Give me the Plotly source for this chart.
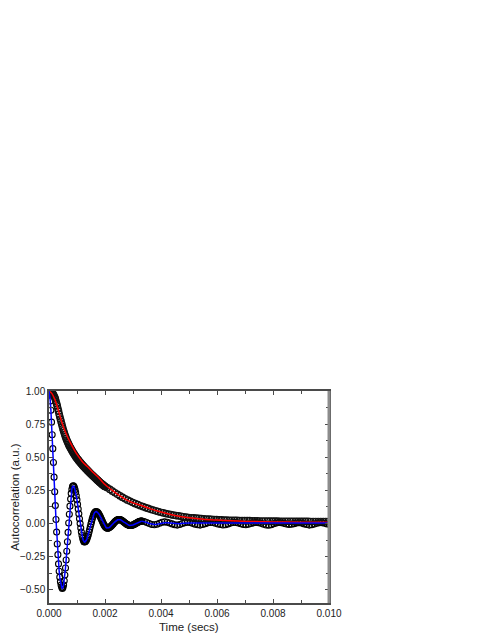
import plotly.graph_objects as go

DT = 1 / 44100  # sampling interval (s)

# oscillating autocorrelation, every sample, n = 0..146
osc_fine = [
    1.000, 0.975, 0.925, 0.855, 0.765, 0.670, 0.565, 0.460, 0.350, 0.240,
    0.135, 0.030, -0.065, -0.155, -0.235, -0.305, -0.360, -0.405, -0.440, -0.465,
    -0.482, -0.490, -0.483, -0.464, -0.432, -0.389, -0.336, -0.275, -0.209, -0.138,
    -0.067, 0.004, 0.070, 0.131, 0.184, 0.227, 0.259, 0.278, 0.285, 0.282,
    0.272, 0.257, 0.235, 0.209, 0.179, 0.145, 0.109, 0.073, 0.036, 0.000,
    -0.034, -0.064, -0.090, -0.112, -0.127, -0.137, -0.140, -0.138, -0.133, -0.125,
    -0.113, -0.099, -0.083, -0.064, -0.045, -0.025, -0.005, 0.014, 0.033, 0.049,
    0.063, 0.075, 0.083, 0.088, 0.090, 0.089, 0.086, 0.082, 0.075, 0.068,
    0.059, 0.049, 0.038, 0.028, 0.017, 0.006, -0.004, -0.013, -0.020, -0.027,
    -0.031, -0.034, -0.035, -0.035, -0.033, -0.031, -0.027, -0.023, -0.019, -0.014,
    -0.008, -0.003, 0.003, 0.009, 0.014, 0.018, 0.022, 0.026, 0.028, 0.029,
    0.030, 0.030, 0.029, 0.027, 0.025, 0.022, 0.019, 0.015, 0.011, 0.008,
    0.004, 0.000, -0.004, -0.007, -0.010, -0.012, -0.014, -0.015, -0.015, -0.015,
    -0.014, -0.013, -0.011, -0.009, -0.007, -0.004, -0.001, 0.002, 0.004, 0.007,
    0.010, 0.012, 0.014, 0.016, 0.017, 0.018, 0.018,
]
OSC_TAIL_START = 146  # sample index, then every 4th sample
osc_tail = [
    0.018, 0.015, 0.008, 0.000, -0.007, -0.010, -0.006, 0.002, 0.009, 0.012,
    0.010, 0.004, -0.003, -0.009, -0.012, -0.008, 0.000, 0.006, 0.009, 0.007,
    0.001, -0.005, -0.010, -0.012, -0.008, -0.001, 0.005, 0.008, 0.007, 0.002,
    -0.004, -0.008, -0.011, -0.009, -0.003, 0.003, 0.007, 0.008, 0.004, -0.002,
    -0.007, -0.009, -0.006, 0.000, 0.005, 0.008, 0.006, 0.001, -0.006, -0.011,
    -0.013, -0.009, -0.002, 0.004, 0.007, 0.006, 0.001, -0.004, -0.007, -0.006,
    -0.001, 0.004, 0.006, 0.003, -0.003, -0.008, -0.012, -0.010, -0.004, 0.002,
    0.006, 0.006, 0.002, -0.003, -0.006,
]
osc_fit_tail = [
    0.018, 0.014, 0.007, 0.000, -0.005, -0.007, -0.005, 0.000, 0.004, 0.006,
    0.005, 0.003, 0.000, -0.002, -0.002, -0.001, 0.001, 0.003, 0.003, 0.003,
    0.003, 0.003, 0.003, 0.003, 0.003, 0.003, 0.003, 0.003, 0.003, 0.003,
    0.003, 0.003, 0.003, 0.003, 0.003, 0.003, 0.003, 0.003, 0.003, 0.003,
    0.003, 0.003, 0.003, 0.003, 0.003, 0.003, 0.003, 0.003, 0.003, 0.003,
    0.003, 0.003, 0.003, 0.003, 0.003, 0.003, 0.003, 0.003, 0.003, 0.003,
    0.003, 0.003, 0.003, 0.003, 0.003, 0.003, 0.003, 0.003, 0.003, 0.003,
    0.003, 0.003, 0.003, 0.003, 0.003,
]

# decaying autocorrelation, every sample n = 0..89
decay_fine = [
    1.000, 0.999, 0.997, 0.995, 0.991, 0.987, 0.980, 0.972, 0.962, 0.953,
    0.940, 0.922, 0.904, 0.887, 0.868, 0.848, 0.826, 0.807, 0.788, 0.770,
    0.752, 0.734, 0.716, 0.700, 0.684, 0.669, 0.655, 0.642, 0.630, 0.619,
    0.608, 0.597, 0.587, 0.578, 0.569, 0.561, 0.552, 0.544, 0.536, 0.528,
    0.521, 0.513, 0.506, 0.499, 0.492, 0.486, 0.480, 0.474, 0.468, 0.462,
    0.457, 0.451, 0.445, 0.440, 0.434, 0.429, 0.424, 0.419, 0.414, 0.409,
    0.404, 0.399, 0.394, 0.389, 0.384, 0.379, 0.375, 0.370, 0.366, 0.361,
    0.356, 0.352, 0.347, 0.343, 0.338, 0.334, 0.329, 0.325, 0.320, 0.316,
    0.311, 0.307, 0.303, 0.299, 0.295, 0.291, 0.287, 0.283, 0.280, 0.277,
]
DECAY_TAIL_START = 92  # sample index, then every 4th sample
decay_tail = [
    0.270, 0.257, 0.244, 0.232, 0.220, 0.208, 0.197, 0.186, 0.176, 0.167,
    0.158, 0.150, 0.142, 0.134, 0.127, 0.120, 0.114, 0.107, 0.101, 0.096,
    0.090, 0.085, 0.080, 0.075, 0.071, 0.067, 0.063, 0.060, 0.057, 0.054,
    0.051, 0.048, 0.045, 0.043, 0.042, 0.040, 0.038, 0.037, 0.035, 0.034,
    0.033, 0.032, 0.030, 0.029, 0.028, 0.027, 0.026, 0.025, 0.024, 0.024,
    0.023, 0.023, 0.022, 0.022, 0.021, 0.021, 0.021, 0.020, 0.020, 0.020,
    0.019, 0.019, 0.019, 0.019, 0.018, 0.018, 0.018, 0.018, 0.017, 0.017,
    0.017, 0.017, 0.017, 0.016, 0.016, 0.016, 0.016, 0.016, 0.016, 0.016,
    0.015, 0.015, 0.015, 0.015, 0.015, 0.015, 0.015, 0.015,
]

# red fit of the decaying curve (time in ms)
fit_t_ms = [0, 0.1, 0.2, 0.3, 0.4, 0.5, 0.6, 0.7, 0.8, 0.9, 1.0, 1.2, 1.4, 1.6,
            1.8, 2.0, 2.2, 2.4, 2.6, 2.8, 3.0, 3.3, 3.6, 3.9, 4.2, 4.5, 5.0,
            5.5, 6.0, 6.5, 7.0, 8.0, 9.0, 10.0]
fit_decay = [1.000, 0.982, 0.940, 0.880, 0.805, 0.738, 0.683, 0.636, 0.595,
             0.556, 0.522, 0.465, 0.424, 0.381, 0.340, 0.294, 0.259, 0.228,
             0.200, 0.174, 0.156, 0.136, 0.112, 0.092, 0.075, 0.060, 0.043,
             0.033, 0.026, 0.020, 0.016, 0.012, 0.010, 0.009]

FONT = "Liberation Sans, Arial, sans-serif"
osc_circ = dict(symbol="circle-open", size=6, color="black", line=dict(width=1.1))
decay_circ = dict(symbol="circle-open", size=6.5, color="#111", line=dict(width=1.2))

fig = go.Figure()
fig.add_trace(go.Scatter(y=osc_fine, x0=0, dx=DT, mode="markers", marker=osc_circ))
fig.add_trace(go.Scatter(y=osc_tail, x0=OSC_TAIL_START * DT, dx=4 * DT,
                         mode="markers", marker=osc_circ))
fig.add_trace(go.Scatter(y=decay_fine, x0=0, dx=DT, mode="markers", marker=decay_circ))
fig.add_trace(go.Scatter(y=decay_tail, x0=DECAY_TAIL_START * DT, dx=4 * DT,
                         mode="markers", marker=decay_circ))
fig.add_trace(go.Scatter(x=[t * 1e-3 for t in fit_t_ms], y=fit_decay, mode="lines",
                         line=dict(color="#ff0000", width=1.5, shape="spline")))
fig.add_trace(go.Scatter(y=osc_fine, x0=0, dx=DT, mode="lines",
                         line=dict(color="#0000ff", width=1.5)))
fig.add_trace(go.Scatter(y=osc_fit_tail, x0=OSC_TAIL_START * DT, dx=4 * DT,
                         mode="lines", line=dict(color="#0000ff", width=1.5)))

axis_common = dict(
    showgrid=False, zeroline=False, showline=True, linecolor="#4a4a4a",
    linewidth=1.5, mirror="allticks", ticks="inside", ticklen=4,
    tickcolor="#4a4a4a", tickfont=dict(family=FONT, size=10, color="#222"),
)
fig.update_xaxes(range=[0, 0.010], tickvals=[0, 0.002, 0.004, 0.006, 0.008, 0.010],
                 tickformat=".3f", minor=dict(ticks="inside", dtick=0.001, ticklen=3,
                                              tickcolor="#4a4a4a"),
                 **axis_common)
fig.update_yaxes(range=[-0.6, 1.0], tickvals=[-0.5, -0.25, 0, 0.25, 0.5, 0.75, 1.0],
                 tickformat=".2f", minor=dict(ticks="inside", dtick=0.125, ticklen=3,
                                              tickcolor="#4a4a4a"),
                 **axis_common)

fig.add_shape(type="line", xref="paper", yref="paper", x0=1, x1=1, y0=0, y1=1,
              line=dict(color="#8c8c8c", width=3))

fig.add_annotation(text="Time (secs)", xref="paper", yref="paper", x=0.5, y=-0.113,
                   showarrow=False, xanchor="center", yanchor="middle",
                   font=dict(family=FONT, size=11.5, color="#222"))
fig.add_annotation(text="Autocorrelation (a.u.)", xref="paper", yref="paper",
                   x=-0.122, y=0.5, textangle=-90, showarrow=False,
                   xanchor="center", yanchor="middle",
                   font=dict(family=FONT, size=11.5, color="#222"))

# the page adds an 8 px body margin, so the figure is 8 px smaller than the window
fig.update_layout(
    width=483, height=627, showlegend=False,
    margin=dict(l=34, r=162, t=383, b=32),
    paper_bgcolor="white", plot_bgcolor="white",
)
fig.write_html("out.html")
